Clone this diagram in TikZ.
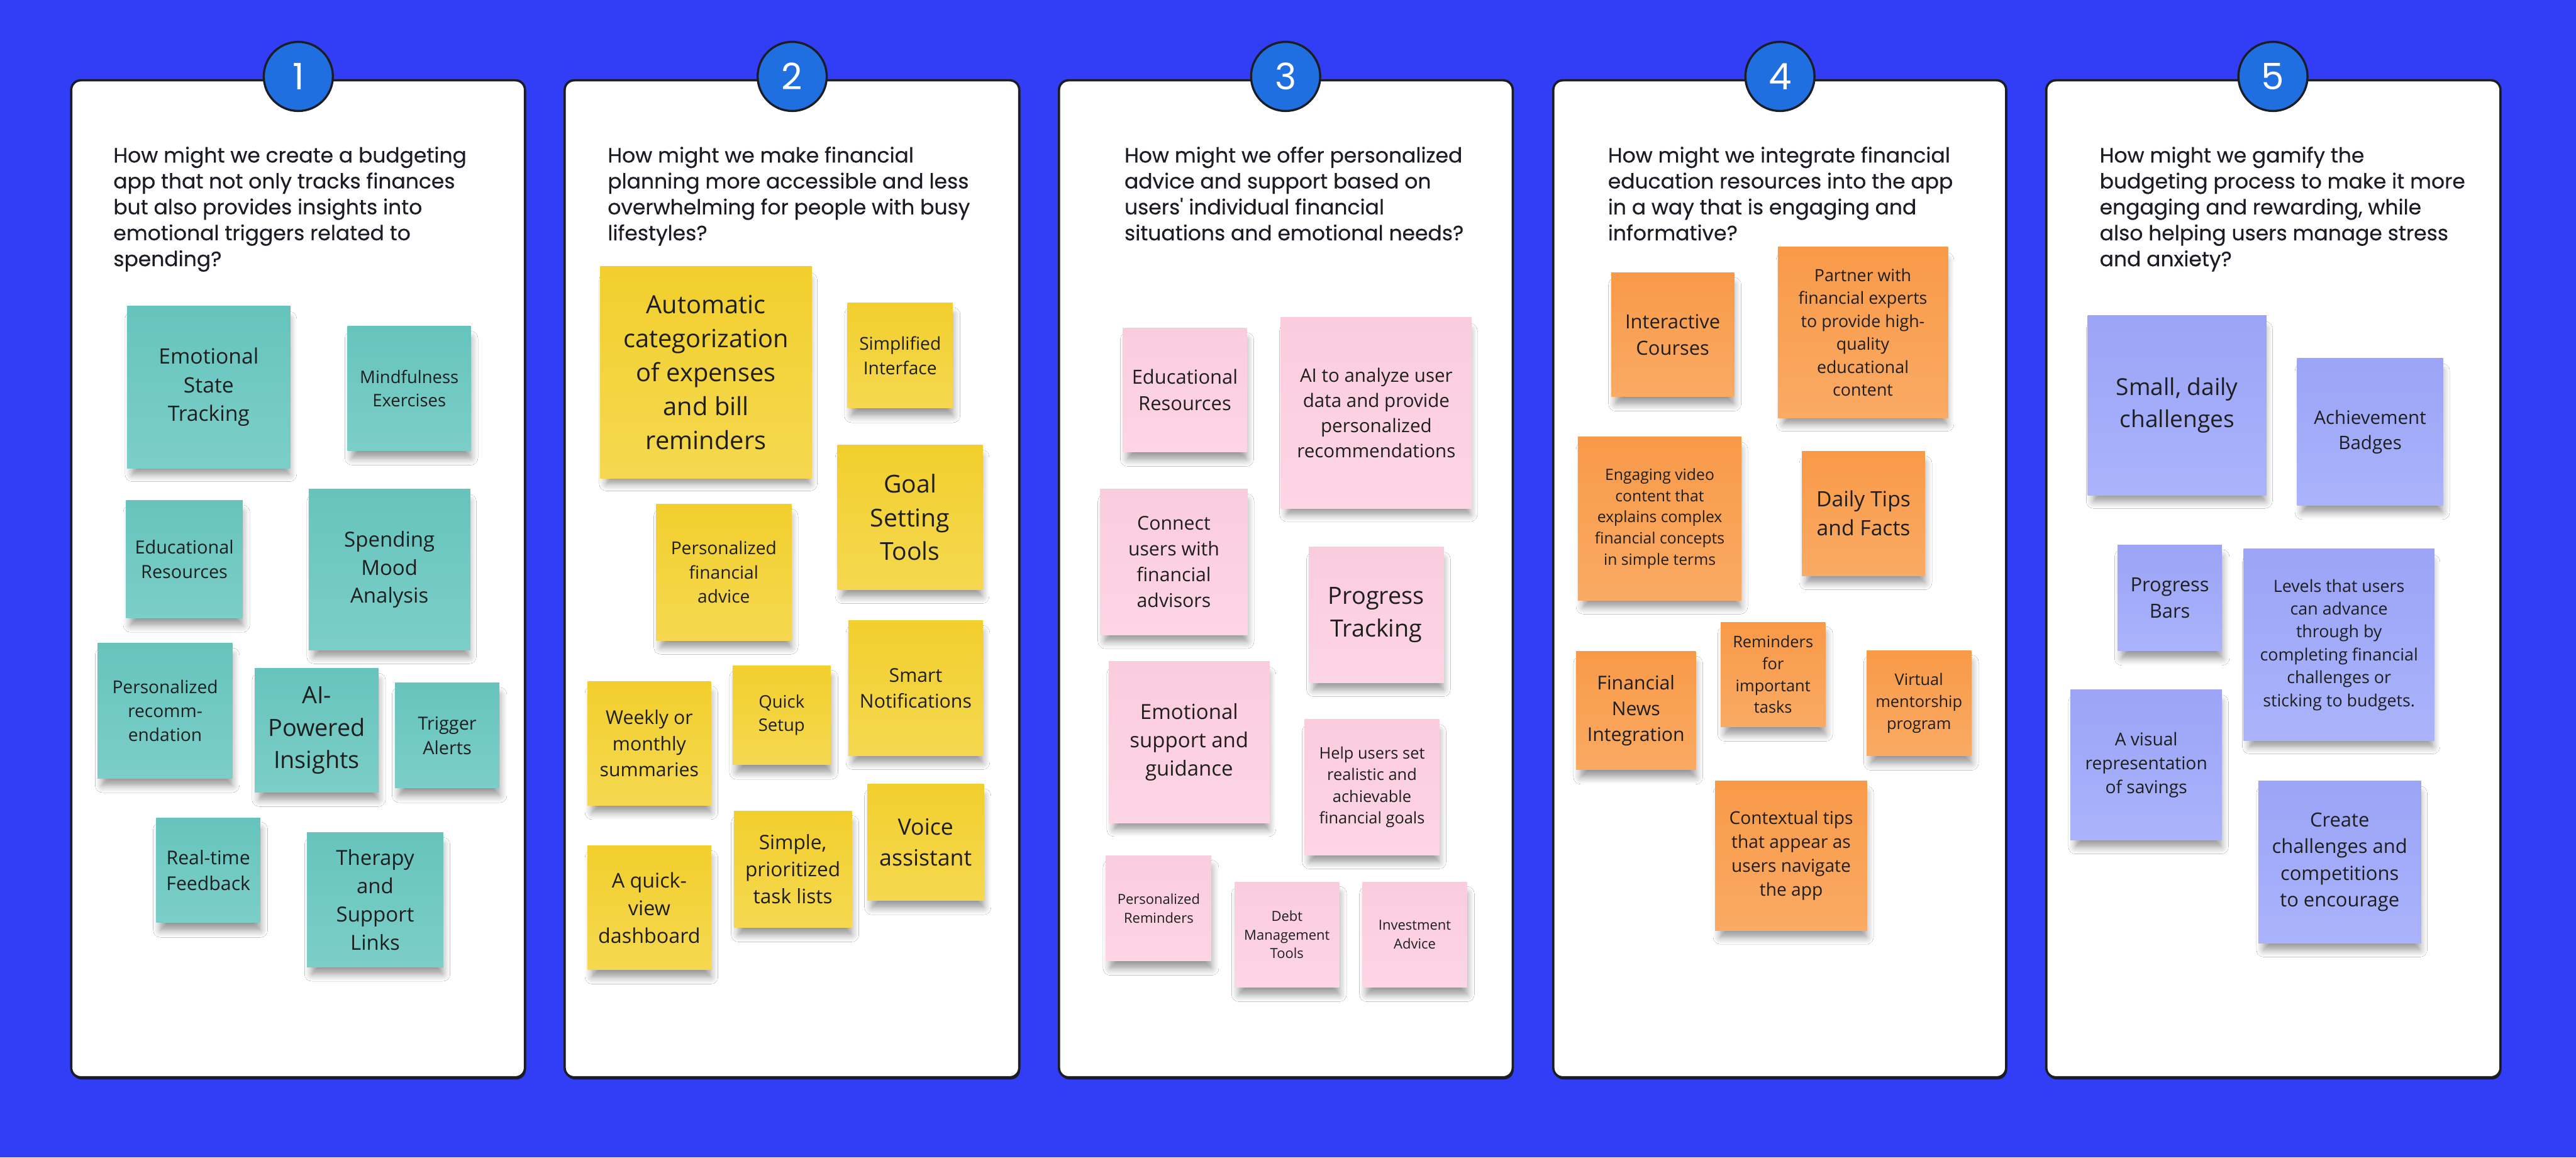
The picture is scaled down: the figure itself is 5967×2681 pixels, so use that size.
\documentclass[tikz,border=0pt]{standalone}
\usepackage{fontspec}
\setmainfont{Open Sans}
\newfontfamily\qfont[FakeBold=0.4]{Poppins}
\newfontfamily\nfont{Poppins}
\usetikzlibrary{shadows,shadows.blur}
\newdimen\pxu \pxu=0.28453pt
\newcommand\fs[1]{\fontsize{\dimexpr#1\pxu\relax}{\dimexpr 136\pxu*#1/100\relax}\selectfont}
\newcommand\qfs[1]{\fontsize{\dimexpr#1\pxu\relax}{\dimexpr 60\pxu\relax}\selectfont}
\definecolor{bg}{RGB}{50,62,245}
\definecolor{ink}{RGB}{28,28,36}
\definecolor{notetext}{RGB}{30,30,30}
\definecolor{circ}{RGB}{31,111,224}
\definecolor{tealT}{RGB}{102,196,189}\definecolor{tealB}{RGB}{124,206,200}
\definecolor{yelT}{RGB}{242,207,45}\definecolor{yelB}{RGB}{245,216,80}
\definecolor{pinkT}{RGB}{250,204,222}\definecolor{pinkB}{RGB}{253,213,229}
\definecolor{oraT}{RGB}{248,154,72}\definecolor{oraB}{RGB}{250,170,100}
\definecolor{vioT}{RGB}{155,164,246}\definecolor{vioB}{RGB}{170,179,251}
\tikzset{
  note/.style={inner sep=0pt, align=center, text=notetext,
    blur shadow={shadow xshift=1.5pt, shadow yshift=-6.5pt, shadow scale=0.96,
      shadow blur radius=5pt, shadow opacity=42, shadow blur steps=6}},
  cT/.style={top color=tealT, bottom color=tealB},
  cY/.style={top color=yelT, bottom color=yelB},
  cP/.style={top color=pinkT, bottom color=pinkB},
  cO/.style={top color=oraT, bottom color=oraB},
  cV/.style={top color=vioT, bottom color=vioB},
  panel/.style={draw=ink, line width=1.5pt, fill=white, rounded corners=0.22cm, inner sep=0pt,
    general shadow={fill=ink, shadow xshift=0.6pt, shadow yshift=-1.4pt}},
  badge/.style={circle, draw=ink, line width=1.4pt, fill=circ, text=white, inner sep=0pt,
    minimum size=1.6cm, font=\nfont\fontsize{24pt}{24pt}\selectfont},
  question/.style={anchor=north west, inner sep=0pt, align=left, text=ink, font=\qfont\qfs{48}}
}
\newcommand\note[8]{\node[note,#6,minimum width={(#4-#2)*0.01cm},minimum height={(#5-#3)*0.01cm},font=\fs{#7}] (#1) at ({(#2+#4)/2},{(#3+#5)/2}) {#8};}
\newcommand\panel[5]{\node[panel,minimum width={(#3-#2)*0.01cm},minimum height={(2495-186)*0.01cm}] (#1) at ({(#2+#3)/2},{(186+2495)/2}) {};
\node[badge] (#1b) at (#4,177) {#5};}
\begin{document}
\begin{tikzpicture}[x=0.01cm,y=-0.01cm]
\fill[bg] (0,0) rectangle (5967,2681);
\useasboundingbox (0,0) rectangle (5967,2681);
\panel{p1}{165}{1216}{691}{1}
\panel{p2}{1308}{2361}{1835}{2}
\panel{p3}{2453}{3504}{2978}{3}
\panel{p4}{3598}{4647}{4123}{4}
\panel{p5}{4740}{5792}{5265}{5}
\node[question] (q1) at (262,339) {How might we create a budgeting\\app that not only tracks finances\\but also provides insights into\\emotional triggers related to\\spending?};
\node[question] (q2) at (1407,339) {How might we make financial\\planning more accessible and less\\overwhelming for people with busy\\lifestyles?};
\node[question] (q3) at (2604,339) {How might we offer personalized\\advice and support based on\\users' individual financial\\situations and emotional needs?};
\node[question] (q4) at (3724,339) {How might we integrate financial\\education resources into the app\\in a way that is engaging and\\informative?};
\node[question] (q5) at (4863,339) {How might we gamify the\\budgeting process to make it more\\engaging and rewarding, while\\also helping users manage stress\\and anxiety?};
% panel 1
\note{n11}{294}{709}{673}{1084}{cT}{49}{Emotional\\State\\Tracking}
\note{n12}{805}{756}{1091}{1044}{cT}{40}{Mindfulness\\Exercises}
\note{n13}{292}{1159}{562}{1431}{cT}{42}{Educational\\Resources}
\note{n14}{715}{1132}{1089}{1506}{cT}{48}{Spending\\Mood\\Analysis}
\note{n15}{226}{1489}{539}{1803}{cT}{41}{Personalized\\recomm-\\endation}
\note{n16}{590}{1548}{877}{1835}{cT}{55}{AI-\\Powered\\Insights}
\note{n17}{915}{1582}{1157}{1825}{cT}{42}{Trigger\\Alerts}
\note{n18}{362}{1894}{603}{2137}{cT}{44}{Real-time\\Feedback}
\note{n19}{711}{1928}{1027}{2240}{cT}{48}{Therapy\\and\\Support\\Links}
% panel 2
\note{n21}{1390}{617}{1881}{1108}{cY}{58}{Automatic\\categorization\\of expenses\\and bill\\reminders}
\note{n22}{1963}{702}{2207}{945}{cY}{41}{Simplified\\Interface}
\note{n23}{1940}{1030}{2276}{1366}{cY}{57}{Goal\\Setting\\Tools}
\note{n24}{1520}{1167}{1833}{1483}{cY}{41}{Personalized\\financial\\advice}
\note{n25}{1965}{1437}{2277}{1750}{cY}{44}{Smart\\Notifications}
\note{n26}{1361}{1578}{1647}{1865}{cY}{44}{Weekly or\\monthly\\summaries}
\note{n27}{1697}{1542}{1924}{1771}{cY}{40}{Quick\\Setup}
\note{n28}{1700}{1878}{1973}{2148}{cY}{46}{Simple,\\prioritized\\task lists}
\note{n29}{2009}{1816}{2279}{2085}{cY}{52}{Voice\\assistant}
\note{n2a}{1361}{1959}{1647}{2246}{cY}{47}{A quick-\\view\\dashboard}
% panel 3
\note{n31}{2601}{759}{2888}{1047}{cP}{45}{Educational\\Resources}
\note{n32}{2967}{735}{3409}{1178}{cP}{43}{AI to analyze user\\data and provide\\personalized\\recommendations}
\note{n33}{2548}{1132}{2890}{1470}{cP}{44}{Connect\\users with\\financial\\advisors}
\note{n34}{3032}{1267}{3344}{1581}{cP}{55}{Progress\\Tracking}
\note{n35}{2568}{1532}{2941}{1906}{cP}{48}{Emotional\\support and\\guidance}
\note{n36}{3022}{1666}{3334}{1980}{cP}{37}{Help users set\\realistic and\\achievable\\financial goals}
\note{n37}{2562}{1982}{2806}{2225}{cP}{32}{Personalized\\Reminders}
\note{n38}{2860}{2043}{3102}{2286}{cP}{32}{Debt\\Management\\Tools}
\note{n39}{3156}{2043}{3398}{2286}{cP}{32}{Investment\\Advice}
% panel 4
\note{n41}{3732}{632}{4017}{919}{cO}{45}{Interactive\\Courses}
\note{n42}{4118}{572}{4512}{968}{cO}{39}{Partner with\\financial experts\\to provide high-\\quality\\educational\\content}
\note{n43}{3655}{1011}{4034}{1391}{cO}{36}{Engaging video\\content that\\explains complex\\financial concepts\\in simple terms}
\note{n44}{4174}{1045}{4459}{1333}{cO}{49}{Daily Tips\\and Facts}
\note{n45}{3651}{1509}{3928}{1783}{cO}{44}{Financial\\News\\Integration}
\note{n46}{3986}{1441}{4228}{1683}{cO}{37}{Reminders\\for\\important\\tasks}
\note{n47}{4324}{1507}{4566}{1750}{cO}{37}{Virtual\\mentorship\\program}
\note{n48}{3973}{1808}{4325}{2155}{cO}{41}{Contextual tips\\that appear as\\users navigate\\the app}
% panel 5
\note{n51}{4836}{731}{5250}{1147}{cV}{54}{Small, daily\\challenges}
\note{n52}{5321}{830}{5659}{1171}{cV}{43}{Achievement\\Badges}
\note{n53}{4905}{1263}{5147}{1507}{cV}{45}{Progress\\Bars}
\note{n54}{5197}{1271}{5639}{1716}{cV}{39}{Levels that users\\can advance\\through by\\completing financial\\challenges or\\sticking to budgets.}
\note{n55}{4796}{1597}{5147}{1946}{cV}{41}{A visual\\representation\\of savings}
\note{n56}{5231}{1808}{5608}{2185}{cV}{45}{Create\\challenges and\\competitions\\to encourage}
\end{tikzpicture}
\end{document}
